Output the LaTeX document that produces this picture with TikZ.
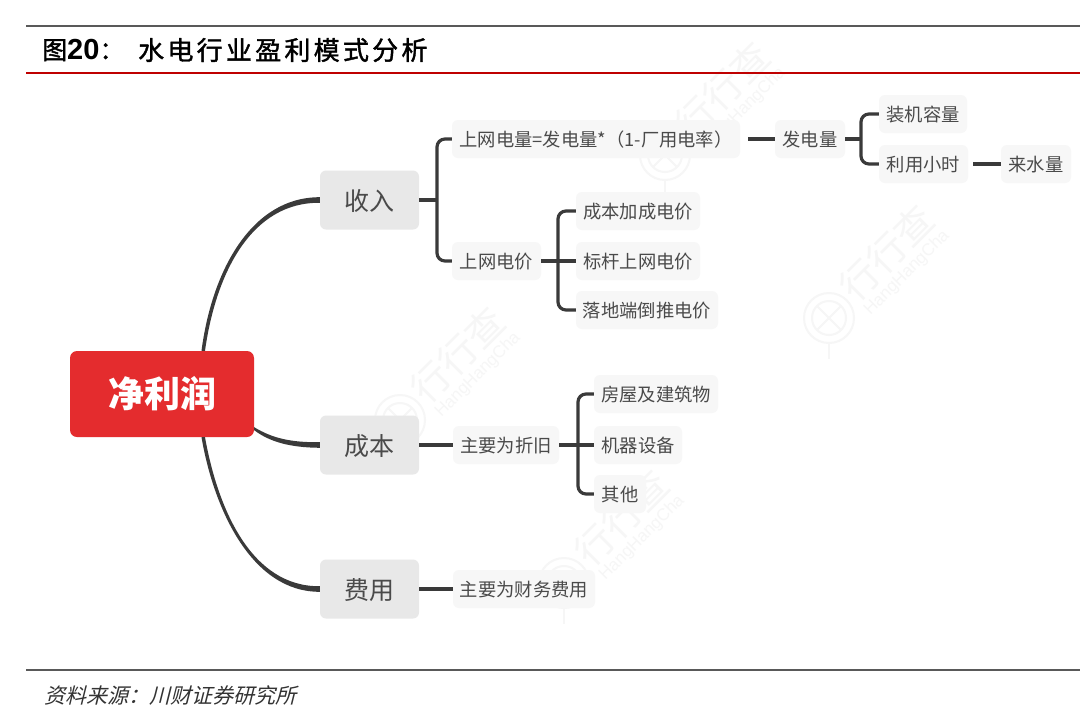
\documentclass[tikz,border=0pt]{standalone}
\usepackage{fontspec}
\setmainfont{Liberation Sans}
\newfontfamily\cjk{Noto Sans CJK SC}
\newfontfamily\cjktitle[LetterSpace=12.5,FakeBold=1.5]{Noto Sans CJK SC}
\newfontfamily\cjktitlea[FakeBold=1.5]{Noto Sans CJK SC}
\newfontfamily\cjkfoot[FakeSlant=0.25]{Noto Sans CJK SC}
\definecolor{linec}{HTML}{3A3A3A}
\definecolor{txt}{HTML}{4A4A4A}
\definecolor{boxa}{HTML}{E8E8E8}
\definecolor{boxb}{HTML}{F7F7F7}
\definecolor{rootc}{HTML}{E42C2E}
\definecolor{wm}{HTML}{F6F6F6}
\tikzset{
  rootbox/.style={fill=rootc,rounded corners=7pt,inner sep=0pt,minimum width=184pt,minimum height=86pt,text=white,font=\cjk\bfseries\fontsize{36}{36}\selectfont},
  boxone/.style={fill=boxa,rounded corners=6pt,inner sep=0pt,minimum width=99pt,minimum height=59pt,text=txt,text height=21pt,text depth=1pt,font=\cjk\fontsize{25}{25}\selectfont},
  boxtwo/.style={fill=boxb,rounded corners=6pt,inner sep=0pt,minimum height=38pt,text=txt,text height=16pt,text depth=1pt,font=\cjk\fontsize{18.3}{18.3}\selectfont},
  curveline/.style={fill=linec,draw=none},
  trunk/.style={draw=linec,line width=3.2pt,rounded corners=8pt},
  stub/.style={draw=linec,line width=3.2pt},
  rulegray/.style={draw=black!65,line width=1.4pt},
  rulered/.style={draw=red!75!black,line width=2.2pt},
  wmtext/.style={text=wm,rotate=45,font=\cjk\fontsize{38}{38}\selectfont},
  wmsub/.style={text=wm,rotate=45,font=\fontsize{17}{17}\selectfont},
  wmring/.style={draw=wm,line width=2pt},
}
\begin{document}
\begin{tikzpicture}[x=1pt,y=-1pt]
\useasboundingbox (0,0) rectangle (1080,716);
\fill[white] (0,0) rectangle (1080,716);
% watermarks
\foreach \wx/\wy in {665/155,400/420,829/318,564/583}{
  \draw[wmring] (\wx,\wy) circle (25);
  \draw[wmring] (\wx,\wy) circle (17);
  \draw[wmring] (\wx-12,\wy-12) -- (\wx+12,\wy+12);
  \draw[wmring] (\wx-12,\wy+12) -- (\wx+12,\wy-12);
  \draw[wmring] (\wx,\wy+25) -- (\wx,\wy+41);
  \node[wmtext] at (\wx+58,\wy-65) {行行查};
  \node[wmsub] at (\wx+78,\wy-45) {HangHangCha};
}
% rules and captions
\coordinate (topl) at (26,26); \coordinate (topr) at (1080,26);
\coordinate (redl) at (26,73); \coordinate (redr) at (1080,73);
\coordinate (botl) at (26,670); \coordinate (botr) at (1080,670);
\draw[rulegray] (topl) -- (topr);
\draw[rulered] (redl) -- (redr);
\draw[rulegray] (botl) -- (botr);
\node[anchor=west,inner sep=0pt,font=\cjktitlea\fontsize{25}{25}\selectfont] (titlea) at (42,50)
  {图{\fontspec{Liberation Sans}\bfseries\fontsize{29}{29}\selectfont 20}：};
\node[anchor=west,inner sep=0pt,font=\cjktitle\fontsize{26}{26}\selectfont] (titleb) at (138,50)
  {水电行业盈利模式分析};
\node[anchor=west,inner sep=0pt,text=black!80,font=\cjkfoot\fontsize{21}{21}\selectfont] (foot) at (44,696)
  {资料来源：川财证券研究所};
% nodes
\node[rootbox] (root) at (162,394) {净利润};
\node[boxone] (sr) at (369.5,200) {收入};
\node[boxone] (cb) at (369.5,445) {成本};
\node[boxone] (fy) at (369.5,589) {费用};
\node[boxtwo,minimum width=288pt] (swdl) at (596,139) {上网电量=发电量*（1-厂用电率）};
\node[boxtwo,minimum width=70pt] (fdl) at (810,139) {发电量};
\node[boxtwo,minimum width=88pt] (zj) at (923,114) {装机容量};
\node[boxtwo,minimum width=89pt] (ly) at (923.5,164) {利用小时};
\node[boxtwo,minimum width=70pt] (ls) at (1036,164) {来水量};
\node[boxtwo,minimum width=89pt] (swdj) at (496.5,261) {上网电价};
\node[boxtwo,minimum width=124pt] (cbjc) at (638,211) {成本加成电价};
\node[boxtwo,minimum width=124pt] (bg) at (638,261) {标杆上网电价};
\node[boxtwo,minimum width=142pt] (ld) at (647,310) {落地端倒推电价};
\node[boxtwo,minimum width=106pt] (zj2) at (506,445) {主要为折旧};
\node[boxtwo,minimum width=124pt] (fw) at (656,394) {房屋及建筑物};
\node[boxtwo,minimum width=88pt] (jq) at (638,445) {机器设备};
\node[boxtwo,minimum width=52pt] (qt) at (620,494) {其他};
\node[boxtwo,minimum width=142pt] (cw) at (524,589) {主要为财务费用};
% main curves, tapered: thin at the root, thick at the child
\fill[curveline] ([xshift=39.5pt]root.north) .. controls (212,270) and (252,197) .. ([yshift=2.8pt]sr.west)
  -- ([yshift=-2.8pt]sr.west) .. controls (252,202) and (216,272) .. ([xshift=43pt]root.north) -- cycle;
\fill[curveline] ([yshift=10pt]root.south east) .. controls (272,438) and (290,442.5) .. ([yshift=2.8pt]cb.west)
  -- ([yshift=-2.8pt]cb.west) .. controls (290,447.5) and (270,442) .. ([yshift=7pt]root.south east) -- cycle;
\fill[curveline] ([xshift=39.5pt]root.south) .. controls (214,510) and (252,592) .. ([yshift=-2.8pt]fy.west)
  -- ([yshift=2.8pt]fy.west) .. controls (252,587) and (218,510) .. ([xshift=43pt]root.south) -- cycle;
% connectors
\coordinate (ta) at (437,200);
\draw[stub] (sr.east) -- (ta);
\draw[trunk] (swdl.west) -| (ta) |- (swdj.west);
\draw[stub] ([xshift=8pt]swdl.east) -- (fdl.west);
\coordinate (tb) at (861,139);
\draw[stub] (fdl.east) -- (tb);
\draw[trunk] (zj.west) -| (tb) |- (ly.west);
\draw[stub] ([xshift=5pt]ly.east) -- (ls.west);
\coordinate (tc) at (558,261);
\draw[stub] (swdj.east) -- (bg.west);
\draw[trunk] (cbjc.west) -| (tc) |- (ld.west);
\draw[stub] (cb.east) -- (zj2.west);
\coordinate (td) at (578,445);
\draw[stub] (zj2.east) -- (jq.west);
\draw[trunk] (fw.west) -| (td) |- (qt.west);
\draw[stub] (fy.east) -- (cw.west);
\end{tikzpicture}
\end{document}
